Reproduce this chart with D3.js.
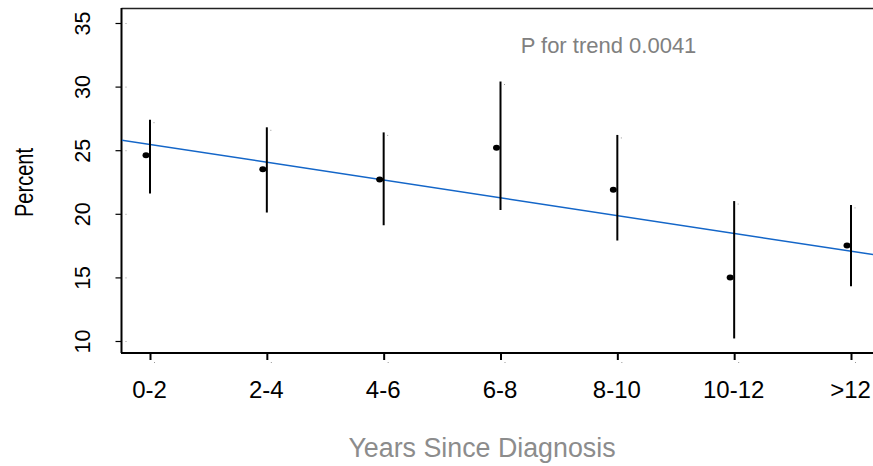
<!DOCTYPE html>
<html><head><meta charset="utf-8">
<script src="https://cdn.jsdelivr.net/npm/d3@7"></script>
<style>body{margin:0;background:#fff}svg{display:block}</style>
</head><body>
<script>
const categories = ["0-2","2-4","4-6","6-8","8-10","10-12",">12"];
const estimates = [24.6, 23.5, 22.7, 25.2, 21.9, 15.0, 17.5];
const lower = [21.6, 20.1, 19.1, 20.3, 17.9, 10.2, 14.3];
const upper = [27.4, 26.8, 26.4, 30.4, 26.2, 21.0, 20.7];
const yTicks = [10, 15, 20, 25, 30, 35];
const trendAtFirst = 25.45, trendAtLast = 17.06;

const W = 873, H = 466;
const svg = d3.select("body").append("svg").attr("width", W).attr("height", H);
const font = "Liberation Sans, Arial, sans-serif";

const x = d3.scaleLinear().domain([0, 6]).range([150, 851]);
const y = d3.scaleLinear().domain([10, 35]).range([341, 23]);

// plot box
svg.append("line").attr("x1",121.5).attr("x2",W).attr("y1",8.5).attr("y2",8.5).attr("stroke","#222").attr("stroke-width",1.5);
svg.append("line").attr("x1",121.5).attr("x2",121.5).attr("y1",8).attr("y2",353).attr("stroke","#000").attr("stroke-width",2);
svg.append("line").attr("x1",121).attr("x2",W).attr("y1",353).attr("y2",353).attr("stroke","#000").attr("stroke-width",2);

// y axis
const yAxis = svg.append("g").attr("transform","translate(121.5,0)")
  .call(d3.axisLeft(y).tickValues(yTicks).tickSize(6).tickFormat(d3.format("d")));
yAxis.select(".domain").remove();
yAxis.selectAll(".tick line").attr("stroke","#000").attr("stroke-width",1.2);
yAxis.selectAll(".tick text").attr("font-family",font).attr("font-size",21.5).attr("fill","#000")
  .attr("x",null).attr("y",null).attr("dy",null)
  .attr("transform","translate(-31.5,0) rotate(-90)").attr("text-anchor","middle");
yAxis.selectAll(".tick").append("rect").attr("x",4).attr("y",-0.5).attr("width",1).attr("height",1).attr("fill","#999");

// x axis
const xAxis = svg.append("g").attr("transform","translate(0,353)")
  .call(d3.axisBottom(x).tickValues(d3.range(categories.length)).tickSize(7).tickFormat(i => categories[i]));
xAxis.select(".domain").remove();
xAxis.selectAll(".tick line").attr("stroke","#000").attr("stroke-width",2);
xAxis.selectAll(".tick text").attr("font-family",font).attr("font-size",24).attr("fill","#000")
  .attr("y",45).attr("dy",null).attr("x",-1);
xAxis.selectAll(".tick").append("rect").attr("x",3.5).attr("y",9).attr("width",1).attr("height",1).attr("fill","#999");

// trend line
svg.append("clipPath").attr("id","c").append("rect").attr("x",122).attr("y",9).attr("width",W-122).attr("height",343);
const slope = (trendAtLast - trendAtFirst) / (categories.length - 1);
const xs = [x.invert(121.5), x.invert(W)];
svg.append("line").attr("clip-path","url(#c)")
  .attr("x1", x(xs[0])).attr("y1", y(trendAtFirst + slope*xs[0]))
  .attr("x2", x(xs[1])).attr("y2", y(trendAtFirst + slope*xs[1]))
  .attr("stroke","#1466c8").attr("stroke-width",1.5);

// error bars
svg.selectAll(".eb").data(categories).enter().append("line")
  .attr("x1",(d,i)=>x(i)).attr("x2",(d,i)=>x(i))
  .attr("y1",(d,i)=>y(upper[i])).attr("y2",(d,i)=>y(lower[i]))
  .attr("stroke","#000").attr("stroke-width",2);
svg.selectAll(".ebdot").data(categories).enter().append("rect")
  .attr("x",(d,i)=>x(i)+3.5).attr("y",(d,i)=>y(upper[i])+2.5).attr("width",1).attr("height",1).attr("fill","#999");

// points
svg.selectAll(".pt").data(categories).enter().append("ellipse")
  .attr("cx",(d,i)=>x(i)-4).attr("cy",(d,i)=>y(estimates[i]))
  .attr("rx",3.5).attr("ry",3).attr("fill","#000");

// annotations
svg.append("text").attr("x",608.5).attr("y",53).attr("text-anchor","middle")
  .attr("font-family",font).attr("font-size",22).attr("fill","#808080").text("P for trend 0.0041");
svg.append("text").attr("x",482).attr("y",457).attr("text-anchor","middle")
  .attr("font-family",font).attr("font-size",26.8).attr("fill","#8c8c8c").text("Years Since Diagnosis");
svg.append("text").attr("transform","translate(33,182.5) rotate(-90)").attr("text-anchor","middle")
  .attr("font-family",font).attr("font-size",26).attr("fill","#000")
  .attr("textLength",69).attr("lengthAdjust","spacingAndGlyphs").text("Percent");
</script>
</body></html>
